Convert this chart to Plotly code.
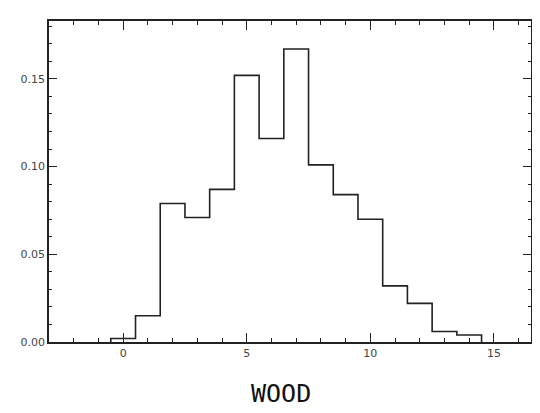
import plotly.graph_objects as go

# Histogram data (bin centers and relative frequencies)
bin_centers = [0, 1, 2, 3, 4, 5, 6, 7, 8, 9, 10, 11, 12, 13, 14]
frequencies = [0.002, 0.015, 0.079, 0.071, 0.087, 0.152, 0.116, 0.167, 0.101,
               0.084, 0.070, 0.032, 0.022, 0.006, 0.004]
x_tick_vals = [0, 5, 10, 15]
y_tick_vals = [0.00, 0.05, 0.10, 0.15]
y_tick_text = ["0.00", "0.05", "0.10", "0.15"]
x_label = "WOOD"

# build step outline from the bins
edges = [c - 0.5 for c in bin_centers] + [bin_centers[-1] + 0.5]
xs = [edges[0]] + edges
ys = [0] + frequencies + [0]

fig = go.Figure()
fig.add_trace(go.Scatter(x=xs, y=ys, mode="lines", line_shape="hv",
                         line=dict(color="#222", width=1.6), hoverinfo="skip"))

axis_common = dict(showline=True, linecolor="#222", linewidth=1.6, mirror="ticks",
                   ticks="inside", tickcolor="#222", showgrid=False, zeroline=False,
                   automargin=False,
                   tickfont=dict(family="DejaVu Sans", size=11, color="#444"))

fig.update_xaxes(range=[-3, 16.5], tickvals=x_tick_vals, ticklen=9, tickwidth=1.3,
                 minor=dict(dtick=1, tick0=0, ticks="inside", ticklen=4, tickcolor="#222"),
                 **axis_common)
fig.update_yaxes(range=[0, 0.183], tickvals=y_tick_vals, ticktext=y_tick_text,
                 ticklen=8, tickwidth=1.3,
                 minor=dict(dtick=0.01, tick0=0, ticks="inside", ticklen=3, tickcolor="#222"),
                 **axis_common)

fig.add_annotation(text=x_label, xref="paper", yref="paper", x=0.482, y=-0.16,
                   showarrow=False, font=dict(family="DejaVu Sans Mono", size=25, color="#111"),
                   xanchor="center", yanchor="middle")

# page body has an 8px margin; size the figure to compensate
fig.update_layout(width=532, height=405, margin=dict(l=41, r=9, t=13, b=71),
                  paper_bgcolor="white", plot_bgcolor="white", showlegend=False)

fig.write_html("out.html")
